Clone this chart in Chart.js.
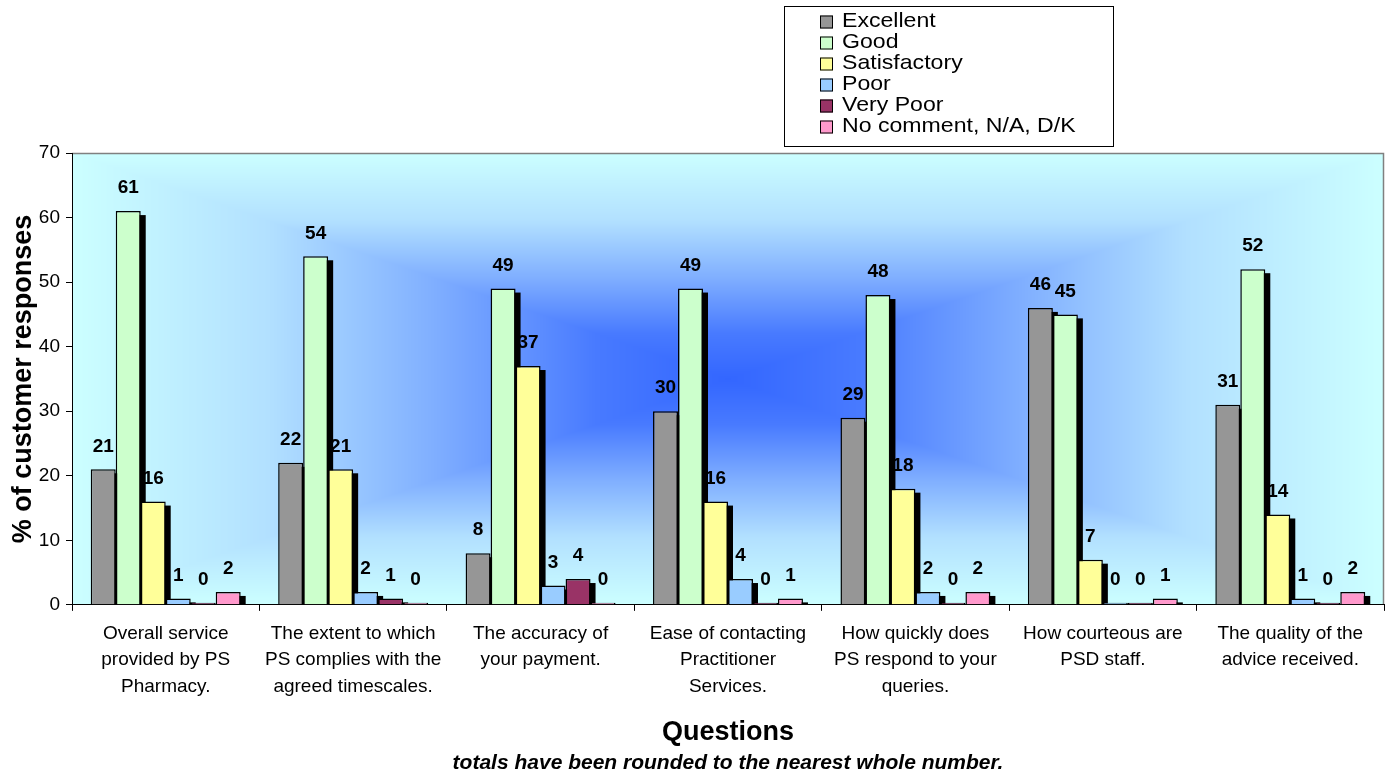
<!DOCTYPE html>
<html>
<head>
<meta charset="utf-8">
<title>Customer responses by question</title>
<script src="https://cdn.jsdelivr.net/npm/chart.js@4/dist/chart.umd.min.js"></script>
<style>
  html, body { margin: 0; padding: 0; background: #ffffff; }
  #wrap { width: 1389px; height: 776px; }
</style>
</head>
<body>
<div id="wrap"><canvas id="chart" width="1389" height="776"></canvas></div>
<script>
// Survey questions (wrapped into display lines)
const questions = [
  ["Overall service", "provided by PS", "Pharmacy."],
  ["The extent to which", "PS complies with the", "agreed timescales."],
  ["The accuracy of", "your payment."],
  ["Ease of contacting", "Practitioner", "Services."],
  ["How quickly does", "PS respond to your", "queries."],
  ["How courteous are", "PSD staff."],
  ["The quality of the", "advice received."]
];

// Percentage of customer responses per rating (rounded)
const excellent    = [21, 22,  8, 30, 29, 46, 31];
const good         = [61, 54, 49, 49, 48, 45, 52];
const satisfactory = [16, 21, 37, 16, 18,  7, 14];
const poor         = [ 1,  2,  3,  4,  2,  0,  1];
const veryPoor     = [ 0,  1,  4,  0,  0,  0,  0];
const noComment    = [ 2,  0,  0,  1,  2,  1,  2];

const ratingNames  = ["Excellent", "Good", "Satisfactory", "Poor", "Very Poor", "No comment, N/A, D/K"];
const ratingColors = ["#969696", "#CCFFCC", "#FFFF99", "#99CCFF", "#993366", "#FF99CC"];
const ratingValues = [excellent, good, satisfactory, poor, veryPoor, noComment];

const yTicks = [0, 10, 20, 30, 40, 50, 60, 70];

const FONT = "'Liberation Sans', Arial, Helvetica, sans-serif";

// Rectangular "from centre" gradient behind the plot area
const gradientStops = [
  [0.00, [51, 102, 255]],
  [0.20, [72, 122, 255]],
  [0.45, [128, 175, 255]],
  [0.70, [178, 224, 255]],
  [1.00, [204, 255, 255]]
];
function stopColor(r) {
  for (let i = 1; i < gradientStops.length; i++) {
    const [p1, c1] = gradientStops[i];
    const [p0, c0] = gradientStops[i - 1];
    if (r <= p1) {
      const t = (r - p0) / (p1 - p0);
      return [0, 1, 2].map(k => c0[k] + (c1[k] - c0[k]) * t);
    }
  }
  return gradientStops[gradientStops.length - 1][1];
}
let bgCache = null;
const plotBackground = {
  id: 'plotBackground',
  beforeDraw(chart) {
    const a = chart.chartArea;
    const w = Math.round(a.right - a.left), h = Math.round(a.bottom - a.top);
    if (!bgCache || bgCache.width !== w || bgCache.height !== h) {
      bgCache = document.createElement('canvas');
      bgCache.width = w; bgCache.height = h;
      const c = bgCache.getContext('2d');
      const img = c.createImageData(w, h);
      const cx = w / 2, cy = h / 2;
      for (let y = 0; y < h; y++) {
        for (let x = 0; x < w; x++) {
          const r = Math.min(1, Math.max(Math.abs(x + 0.5 - cx) / cx, Math.abs(y + 0.5 - cy) / cy));
          const col = stopColor(r);
          const i = (y * w + x) * 4;
          img.data[i] = col[0]; img.data[i + 1] = col[1]; img.data[i + 2] = col[2]; img.data[i + 3] = 255;
        }
      }
      c.putImageData(img, 0, 0);
    }
    const ctx = chart.ctx;
    ctx.save();
    ctx.drawImage(bgCache, a.left, a.top, a.right - a.left, a.bottom - a.top);
    ctx.strokeStyle = '#808080';
    ctx.lineWidth = 1.5;
    ctx.beginPath();
    ctx.moveTo(a.left, a.top + 0.5);
    ctx.lineTo(a.right - 0.5, a.top + 0.5);
    ctx.lineTo(a.right - 0.5, a.bottom);
    ctx.stroke();
    ctx.restore();
  }
};

// Solid offset drop shadow under every bar
const barShadows = {
  id: 'barShadows',
  beforeDatasetsDraw(chart, args, opts) {
    const ctx = chart.ctx;
    ctx.save();
    ctx.fillStyle = '#000000';
    chart.data.datasets.forEach((ds, i) => {
      const meta = chart.getDatasetMeta(i);
      if (meta.hidden) return;
      meta.data.forEach(el => {
        const top = el.y + opts.dy;
        const hgt = el.base - top;
        if (hgt <= 0) return;
        ctx.fillRect(el.x - el.width / 2 + opts.dx, top, el.width, hgt);
      });
    });
    ctx.restore();
  }
};

// Value labels above the bars
const valueLabels = {
  id: 'valueLabels',
  afterDatasetsDraw(chart, args, opts) {
    const ctx = chart.ctx;
    ctx.save();
    ctx.font = opts.font;
    ctx.fillStyle = '#000000';
    ctx.textAlign = 'center';
    ctx.textBaseline = 'middle';
    chart.data.datasets.forEach((ds, i) => {
      const meta = chart.getDatasetMeta(i);
      meta.data.forEach((el, j) => {
        ctx.fillText(String(ds.data[j]), el.x, el.y - opts.offset);
      });
    });
    ctx.restore();
  }
};

// Boxed legend, one rating per line
const boxedLegend = {
  id: 'boxedLegend',
  afterDraw(chart, args, opts) {
    const ctx = chart.ctx;
    ctx.save();
    ctx.strokeStyle = '#000000';
    ctx.lineWidth = 1;
    ctx.fillStyle = '#ffffff';
    ctx.fillRect(opts.left, opts.top, opts.width, opts.height);
    ctx.strokeRect(opts.left + 0.5, opts.top + 0.5, opts.width, opts.height);
    ctx.font = opts.font;
    ctx.textAlign = 'left';
    ctx.textBaseline = 'middle';
    chart.data.datasets.forEach((ds, i) => {
      const cy = opts.firstY + i * opts.lineStep;
      const s = opts.swatch;
      ctx.fillStyle = ds.backgroundColor;
      ctx.fillRect(opts.swatchX, cy - s / 2 + 1, s, s);
      ctx.strokeRect(opts.swatchX + 0.5, cy - s / 2 + 1.5, s - 1, s - 1);
      ctx.fillStyle = '#000000';
      ctx.save();
      ctx.translate(opts.textX, cy);
      ctx.scale(opts.stretch, 1);
      ctx.fillText(ds.label, 0, 0);
      ctx.restore();
    });
    ctx.restore();
  }
};

const datasets = ratingNames.map((name, i) => ({
  label: name,
  data: ratingValues[i],
  backgroundColor: ratingColors[i],
  borderColor: '#000000',
  borderWidth: 1.5,
  minBarLength: 2,
  categoryPercentage: 0.8,
  barPercentage: 1.0
}));

new Chart(document.getElementById('chart'), {
  type: 'bar',
  data: { labels: questions, datasets },
  plugins: [plotBackground, barShadows, valueLabels, boxedLegend],
  options: {
    responsive: false,
    animation: false,
    layout: { padding: { top: 153, right: 5, bottom: 0, left: 0 } },
    plugins: {
      legend: { display: false },
      tooltip: { enabled: false },
      title: { display: false },
      subtitle: {
        display: true,
        position: 'bottom',
        fullSize: false,
        text: 'totals have been rounded to the nearest whole number.',
        color: '#000000',
        font: { family: FONT, size: 21, weight: 'bold', style: 'italic', lineHeight: 1.15 },
        padding: { top: 0, bottom: 1 }
      },
      barShadows: { dx: 5, dy: 4 },
      valueLabels: { font: 'bold 19px ' + FONT, offset: 23 },
      boxedLegend: {
        left: 784, top: 6, width: 329, height: 140,
        swatchX: 820, swatch: 13, textX: 842,
        firstY: 21, lineStep: 21,
        font: '21px ' + FONT, stretch: 1.1
      }
    },
    scales: {
      x: {
        grid: { display: true, drawOnChartArea: false, drawTicks: true, tickLength: 6, color: '#000000', offset: true },
        border: { display: true, color: '#000000', width: 1 },
        ticks: {
          color: '#000000',
          padding: 10,
          maxRotation: 0,
          autoSkip: false,
          font: { family: FONT, size: 19, lineHeight: 1.38 }
        },
        title: {
          display: true,
          text: 'Questions',
          color: '#000000',
          font: { family: FONT, size: 27, weight: 'bold', lineHeight: 1.2 },
          padding: { top: 0, bottom: 2 }
        },
        afterFit(scale) { scale.height = 146; }
      },
      y: {
        min: 0,
        max: 70,
        afterBuildTicks(scale) { scale.ticks = yTicks.map(v => ({ value: v })); },
        grid: { display: true, drawOnChartArea: false, drawTicks: true, tickLength: 6, color: '#000000' },
        border: { display: true, color: '#000000', width: 1 },
        ticks: {
          color: '#000000',
          padding: 6,
          font: { family: FONT, size: 19 }
        },
        title: {
          display: true,
          text: '% of customer responses',
          color: '#000000',
          font: { family: FONT, size: 27, weight: 'bold', lineHeight: 1.2 },
          padding: { top: 7, bottom: 0 }
        },
        afterFit(scale) { scale.width = 72; }
      }
    }
  }
});
</script>
</body>
</html>
